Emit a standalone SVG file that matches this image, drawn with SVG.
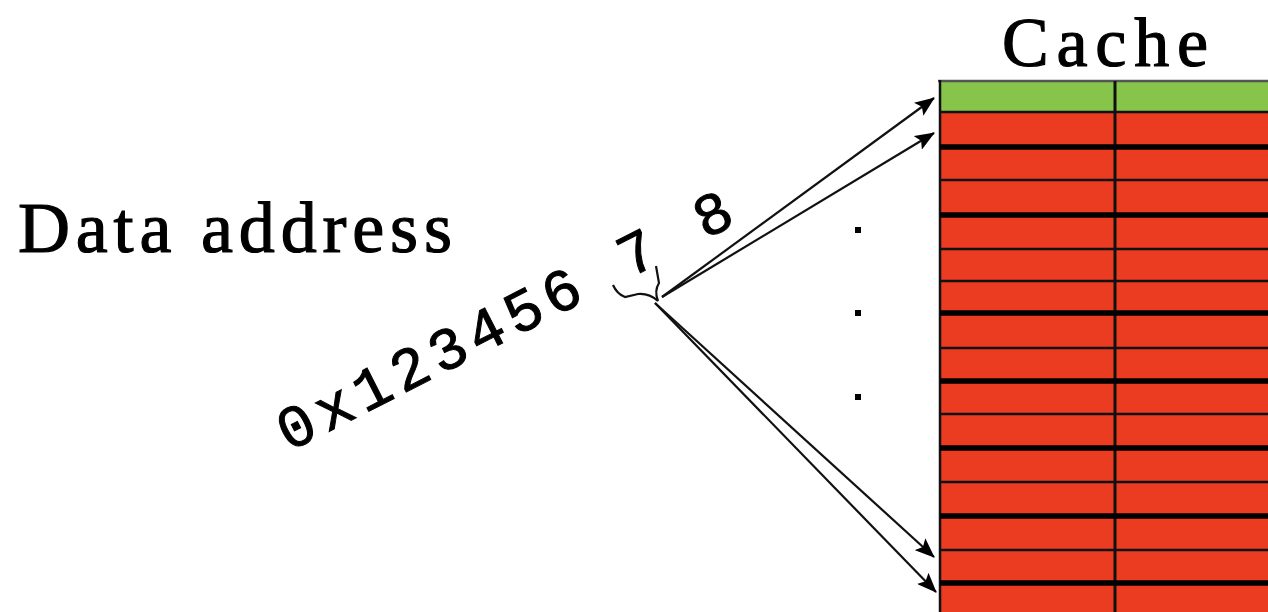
<svg xmlns="http://www.w3.org/2000/svg" width="1268" height="612" viewBox="0 0 1268 612">
  <style>
    .serif { font-family: "Liberation Serif", "Times New Roman", serif; fill: #000; stroke: #000; stroke-width: 1.2; }
    .mono { font-family: "Liberation Mono", "Courier New", monospace; fill: #000; stroke: #000; stroke-width: 1; }
    .green { fill: #86C44A; }
    .red { fill: #EB3B20; }
    .thin { stroke: #111; stroke-width: 2.5; }
    .thick { stroke: #000; stroke-width: 5.5; }
    .conn { stroke: #111; stroke-width: 2.2; fill: none; }
    .dot { fill: #000; }
  </style>
  <defs>
    <marker id="arrow" markerWidth="20" markerHeight="16" refX="19" refY="8" orient="auto" markerUnits="userSpaceOnUse">
      <path d="M0,0 L20,8 L0,16 L4,8 Z" fill="#000"/>
    </marker>
  </defs>
  <rect width="1268" height="612" fill="#fff"/>

  <g id="cache-title">
    <text class="serif" x="1002" y="66" font-size="70" textLength="206" lengthAdjust="spacing">Cache</text>
  </g>

  <g id="data-address-label">
    <text class="serif" x="18" y="252" font-size="72" textLength="434" lengthAdjust="spacing">Data address</text>
  </g>

  <g id="address">
    <text class="mono" x="289" y="452" font-size="60" letter-spacing="6.5" xml:space="preserve" transform="rotate(-27 289 452)">0x123456 7 8</text>
    <path class="conn" d="M613,285 Q617,294 625,297 L638,294 Q649,293 658,301 Q654,291 659,283 L656,266" stroke-width="2.4"/>
  </g>

  <g id="cache">
    <rect class="green" x="940" y="81" width="328" height="31"/>
    <rect class="red" x="940" y="112" width="328" height="500"/>
    <line x1="938" y1="81" x2="1268" y2="81" stroke="#555" stroke-width="2.5"/>
    <line x1="940" y1="80" x2="940" y2="612" stroke="#111" stroke-width="2.5"/>
    <line x1="1115" y1="81" x2="1115" y2="612" stroke="#111" stroke-width="3"/>
    <g>
      <line class="thin" x1="940" y1="112" x2="1268" y2="112"/>
      <line class="thick" x1="940" y1="147" x2="1268" y2="147"/>
      <line class="thin" x1="940" y1="180" x2="1268" y2="180"/>
      <line class="thick" x1="940" y1="215" x2="1268" y2="215"/>
      <line class="thin" x1="940" y1="249" x2="1268" y2="249"/>
      <line class="thin" x1="940" y1="281" x2="1268" y2="281"/>
      <line class="thick" x1="940" y1="313" x2="1268" y2="313"/>
      <line class="thin" x1="940" y1="348" x2="1268" y2="348"/>
      <line class="thick" x1="940" y1="381" x2="1268" y2="381"/>
      <line class="thin" x1="940" y1="414" x2="1268" y2="414"/>
      <line class="thick" x1="940" y1="448" x2="1268" y2="448"/>
      <line class="thin" x1="940" y1="482" x2="1268" y2="482"/>
      <line class="thick" x1="940" y1="516" x2="1268" y2="516"/>
      <line class="thin" x1="940" y1="550" x2="1268" y2="550"/>
      <line class="thick" x1="940" y1="583" x2="1268" y2="583"/>
    </g>
  </g>

  <g id="dots">
    <rect class="dot" x="855" y="227" width="6" height="6"/>
    <rect class="dot" x="855" y="310" width="6" height="6"/>
    <rect class="dot" x="855" y="394" width="6" height="6"/>
  </g>

  <g id="connectors">
    <line class="conn" x1="662" y1="297" x2="934" y2="98" marker-end="url(#arrow)"/>
    <line class="conn" x1="662" y1="297" x2="934" y2="133" marker-end="url(#arrow)"/>
    <line class="conn" x1="655" y1="303" x2="934" y2="557" marker-end="url(#arrow)"/>
    <line class="conn" x1="655" y1="303" x2="936" y2="592" marker-end="url(#arrow)"/>
  </g>
</svg>
